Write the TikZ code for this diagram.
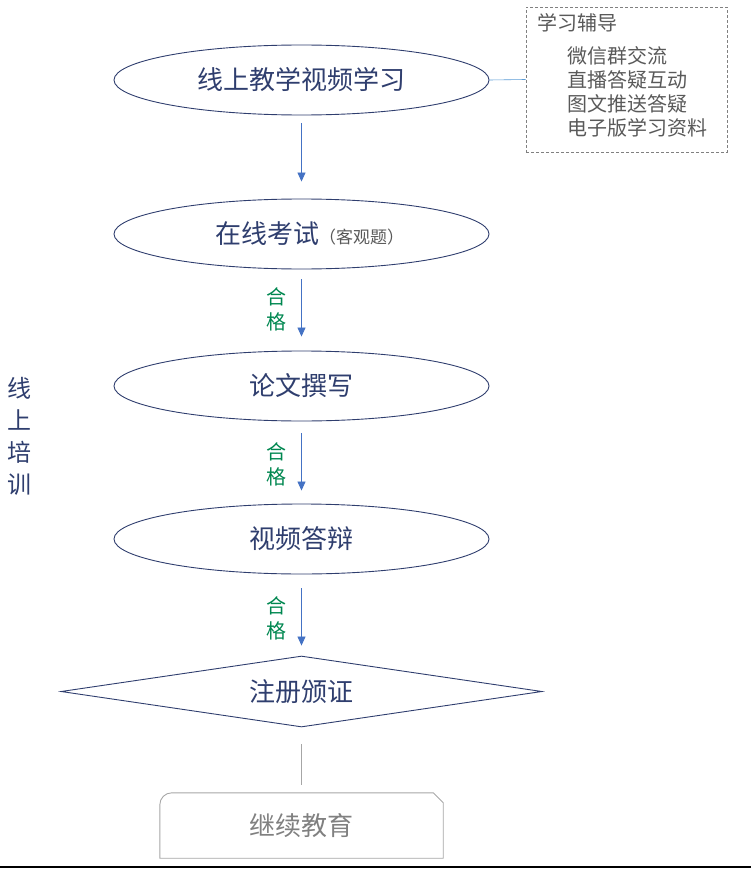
\documentclass[tikz,border=0pt]{standalone}
\usepackage{fontspec}
\setmainfont{Noto Sans CJK SC}
\definecolor{lnnavy}{RGB}{47,62,110}
\definecolor{lnblue}{RGB}{68,114,196}
\definecolor{lnlink}{RGB}{91,155,213}
\definecolor{lngreen}{RGB}{0,135,80}
\definecolor{lngray}{RGB}{166,166,166}
\definecolor{lntext}{RGB}{89,89,89}
\usetikzlibrary{arrows.meta,positioning,shapes.geometric,calc}

\begin{document}
\begin{tikzpicture}[x=1pt,y=-1pt,
  stage/.style={ellipse, draw=lnnavy, line width=0.9pt, minimum width=375pt, minimum height=70pt, inner sep=0pt, text=lnnavy, font=\fontsize{26}{30}\selectfont},
  flow/.style={draw=lnblue, line width=0.8pt, -{Triangle[width=8pt,length=9pt]}},
  pass/.style={text=lngreen, align=center, font=\fontsize{20}{25}\selectfont}]
  \useasboundingbox (0,0) rectangle (751,869);

  % main flow
  \node[stage] (video) at (301.5,80) {线上教学视频学习};
  \node[stage] (exam) at (301.5,234) {\hspace*{16pt}在线考试{\fontsize{17}{18}\selectfont\color{lntext}（客观题）}};
  \node[stage] (paper) at (301.5,386) {论文撰写};
  \node[stage] (defense) at (301.5,539) {视频答辩};
  \node[diamond, aspect=6.77, draw=lnnavy, line width=0.9pt, minimum width=481pt, minimum height=71pt, inner sep=0pt,
        text=lnnavy, font=\fontsize{26}{30}\selectfont] (cert) at (301.5,691.5) {注册颁证};

  % continuing education box
  \node[minimum width=283pt, minimum height=65pt, inner sep=0pt, text=gray, font=\fontsize{26}{30}\selectfont] (cont) at (301.5,825.5) {继续教育};
  \draw[lngray, line width=0.9pt] (cont.south west) -- ($(cont.north west)+(0,12)$)
    arc[start angle=180, end angle=270, radius=12] -- ($(cont.north east)+(-10,0)$)
    -- ($(cont.north east)+(0,10)$) -- (cont.south east) -- cycle;

  % arrows
  \draw[flow, shorten <=8pt, shorten >=17pt] (video) -- (exam);
  \draw[flow, shorten <=10pt, shorten >=14pt] (exam) -- (paper);
  \draw[flow, shorten <=12pt, shorten >=13pt] (paper) -- (defense);
  \draw[flow, shorten <=14pt, shorten >=10pt] (defense) -- (cert);
  \draw[lngray, line width=0.9pt, shorten <=17pt, shorten >=8pt] (cert) -- (cont);

  \node[pass] (ok1) at (276,309) {合\\格};
  \node[pass] (ok2) at (276,464) {合\\格};
  \node[pass] (ok3) at (276,618) {合\\格};

  % tutoring box
  \node[draw=gray, dash pattern=on 3pt off 2pt, line width=0.7pt, minimum width=201pt, minimum height=145pt, inner sep=0pt] (tutor) at (626.5,79.5) {};
  \node[anchor=north west, inner sep=0pt, text=lntext, font=\fontsize{20}{24}\selectfont] (tutortitle) at (537,13) {学习辅导};
  \node[anchor=north west, inner sep=0pt, align=left, text=lntext, font=\fontsize{20}{24}\selectfont] (tutorlist) at (567,46)
    {微信群交流\\直播答疑互动\\图文推送答疑\\电子版学习资料};
  \draw[lnlink, line width=0.6pt] (video.east) -- (tutor.west);

  % side label
  \node[align=center, text=lnnavy, font=\fontsize{24}{32}\selectfont] (side) at (20,436) {线\\上\\培\\训};

  % bottom rule
  \draw[line width=2pt] (0,867) -- (751,867);
\end{tikzpicture}
\end{document}
